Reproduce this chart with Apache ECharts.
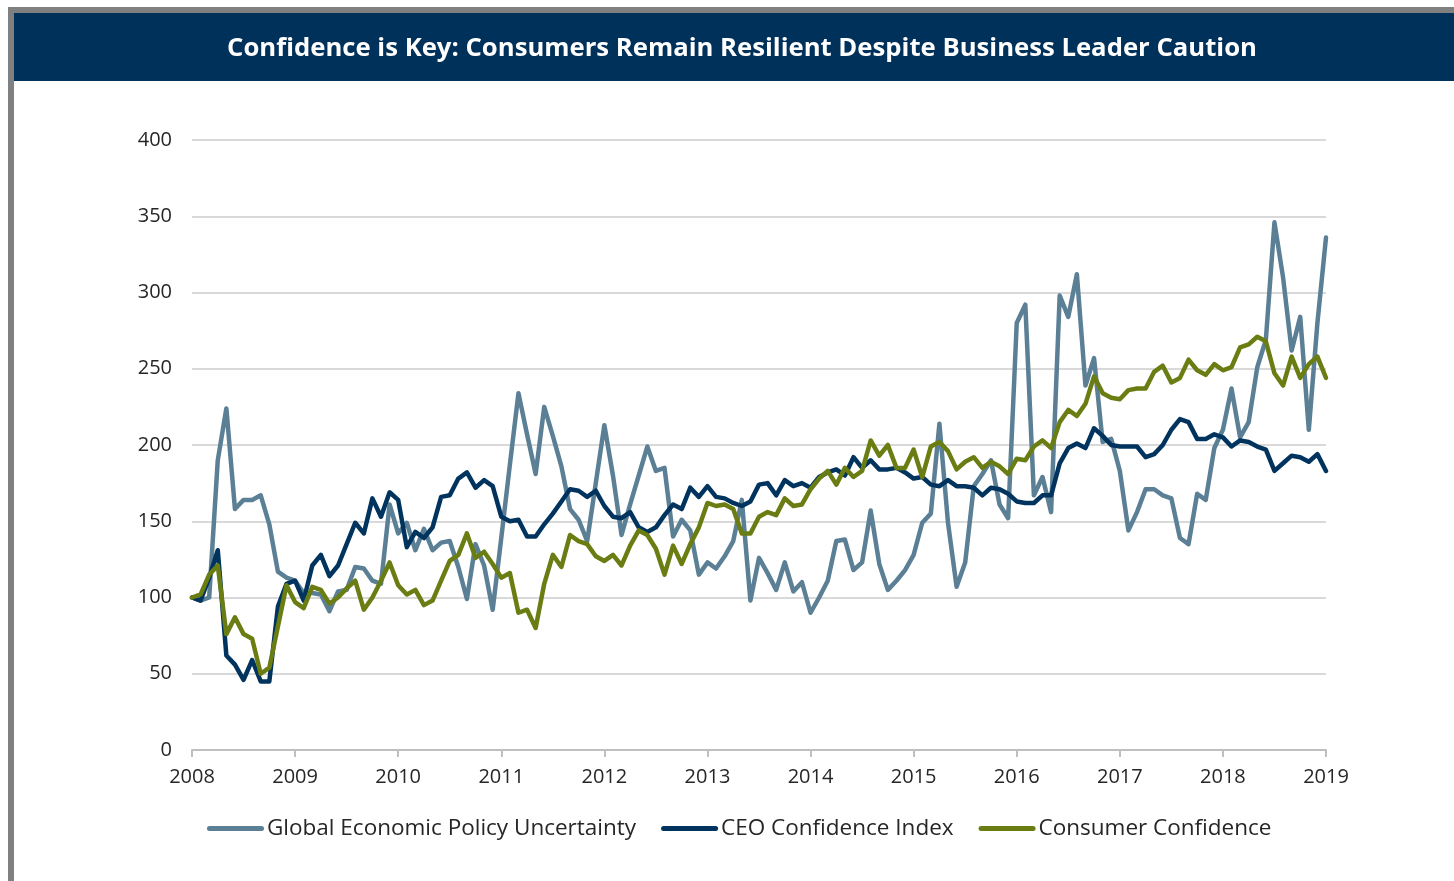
<!DOCTYPE html>
<html>
<head>
<meta charset="utf-8">
<script src="https://cdn.jsdelivr.net/npm/echarts@6/dist/echarts.min.js"></script>
<style>
  html, body { margin: 0; padding: 0; background: #ffffff; }
  #chart { width: 1454px; height: 881px; }
</style>
</head>
<body>
<div id="chart"></div>
<script>
// ---- Data (monthly, Jan 2008 – Jan 2019) ----
const startYear = 2008;
const yearLabels = ['2008','2009','2010','2011','2012','2013','2014','2015','2016','2017','2018','2019'];
const seriesNames = ['Global Economic Policy Uncertainty', 'CEO Confidence Index', 'Consumer Confidence'];

const policyUncertainty = [
  100, 98, 100, 190, 224, 158, 164, 164, 167, 148, 117, 113,
  111, 103, 103, 102, 91, 104, 105, 120, 119, 111, 109, 161,
  142, 149, 131, 145, 131, 136, 137, 120, 99, 135, 121, 92,
  139, 187, 234, 207, 181, 225, 206, 186, 158, 151, 137, 175,
  213, 180, 141, 161, 180, 199, 183, 185, 140, 151, 144, 115,
  123, 119, 127, 137, 164, 98, 126, 116, 105, 123, 104, 110,
  90, 100, 111, 137, 138, 118, 123, 157, 122, 105, 111, 118,
  128, 149, 155, 214, 149, 107, 123, 173, 181, 190, 161, 152,
  280, 292, 167, 179, 156, 298, 284, 312, 239, 257, 202, 204,
  183, 144, 156, 171, 171, 167, 165, 139, 135, 168, 164, 198,
  210, 237, 205, 215, 251, 269, 346, 310, 262, 284, 210, 280,
  336
];
const ceoConfidence = [
  100, 98, 113, 131, 62, 56, 46, 59, 45, 45, 94, 109,
  111, 98, 121, 128, 114, 121, 135, 149, 142, 165, 153, 169,
  164, 133, 143, 139, 146, 166, 167, 178, 182, 172, 177, 173,
  153, 150, 151, 140, 140, 148, 155, 163, 171, 170, 166, 170,
  160, 153, 152, 156, 146, 143, 146, 154, 161, 158, 172, 166,
  173, 166, 165, 162, 160, 163, 174, 175, 167, 177, 173, 175,
  172, 179, 182, 184, 180, 192, 185, 190, 184, 184, 185, 182,
  178, 179, 174, 173, 177, 173, 173, 172, 167, 172, 171, 168,
  163, 162, 162, 167, 167, 188, 198, 201, 198, 211, 206, 200,
  199, 199, 199, 192, 194, 200, 210, 217, 215, 204, 204, 207,
  205, 199, 203, 202, 199, 197, 183, 188, 193, 192, 189, 194,
  183
];
const consumerConfidence = [
  100, 102, 115, 121, 76, 87, 76, 73, 50, 54, 81, 108,
  97, 93, 107, 105, 96, 100, 106, 111, 92, 100, 111, 123,
  108, 102, 105, 95, 98, 111, 124, 128, 142, 126, 130, 122,
  113, 116, 90, 92, 80, 109, 128, 120, 141, 137, 135, 127,
  124, 128, 121, 134, 144, 141, 132, 115, 134, 122, 135, 146,
  162, 160, 161, 158, 142, 142, 153, 156, 154, 165, 160, 161,
  171, 178, 183, 174, 185, 179, 183, 203, 193, 200, 185, 185,
  197, 179, 199, 202, 196, 184, 189, 192, 185, 189, 186, 181,
  191, 190, 199, 203, 198, 215, 223, 219, 227, 245, 234, 231,
  230, 236, 237, 237, 248, 252, 241, 244, 256, 249, 246, 253,
  249, 251, 264, 266, 271, 268, 247, 239, 258, 244, 253, 258,
  244
];

// month categories built from the start year
const months = policyUncertainty.map((_, i) =>
  (startYear + Math.floor(i / 12)) + '-' + String(i % 12 + 1).padStart(2, '0'));

const COLORS = ['#5B7F95', '#00345E', '#6A7D13'];
const FONT = '"Open Sans", "Liberation Sans", sans-serif';

const chart = echarts.init(document.getElementById('chart'), null, { renderer: 'canvas' });

const legendIcon = 'path://M2.5,0 L54.5,0 A2.5,2.5 0 0 1 54.5,5 L2.5,5 A2.5,2.5 0 0 1 2.5,0 Z';

chart.setOption({
  backgroundColor: '#ffffff',
  animation: false,
  graphic: [
    { type: 'rect', z: -10, shape: { x: 8, y: 7, width: 1446, height: 874 }, style: { fill: '#808080' } },
    { type: 'rect', z: -9, shape: { x: 14, y: 13, width: 1440, height: 868 }, style: { fill: '#ffffff' } },
    { type: 'rect', z: -8, shape: { x: 14, y: 13, width: 1440, height: 68 }, style: { fill: '#00315A' } }
  ],
  title: {
    text: 'Confidence is Key: Consumers Remain Resilient Despite Business Leader Caution',
    left: 737,
    top: 31,
    textAlign: 'center',
    textStyle: { color: '#ffffff', fontFamily: FONT, fontWeight: 'bold', fontSize: 25.7 }
  },
  legend: {
    data: seriesNames,
    left: 202,
    top: 812,
    itemWidth: 57,
    itemHeight: 5,
    itemGap: 25,
    icon: legendIcon,
    textStyle: { fontFamily: FONT, fontSize: 22.5, color: '#262626', padding: [0, 0, 0, -2] }
  },
  grid: { left: 192, right: 128, top: 140, bottom: 131, containLabel: false },
  xAxis: {
    type: 'category',
    data: months,
    boundaryGap: false,
    axisLine: { lineStyle: { color: '#BFBFBF', width: 2 } },
    axisTick: { show: true, interval: 11, length: 7, lineStyle: { color: '#BFBFBF', width: 2 } },
    axisLabel: {
      interval: 11,
      margin: 17,
      fontFamily: FONT,
      fontSize: 20,
      color: '#262626',
      formatter: v => yearLabels[yearLabels.indexOf(v.slice(0, 4))]
    },
    splitLine: { show: false }
  },
  yAxis: {
    type: 'value',
    min: 0,
    max: 400,
    interval: 50,
    axisLine: { show: false },
    axisTick: { show: false },
    axisLabel: { margin: 20, fontFamily: FONT, fontSize: 20, color: '#262626' },
    splitLine: { lineStyle: { color: '#D9D9D9', width: 2 } }
  },
  series: [
    { name: seriesNames[0], data: policyUncertainty, color: COLORS[0] },
    { name: seriesNames[1], data: ceoConfidence, color: COLORS[1] },
    { name: seriesNames[2], data: consumerConfidence, color: COLORS[2] }
  ].map(s => Object.assign({
    type: 'line',
    symbol: 'none',
    lineStyle: { width: 4.5, cap: 'round', join: 'round' }
  }, s))
});
</script>
</body>
</html>
